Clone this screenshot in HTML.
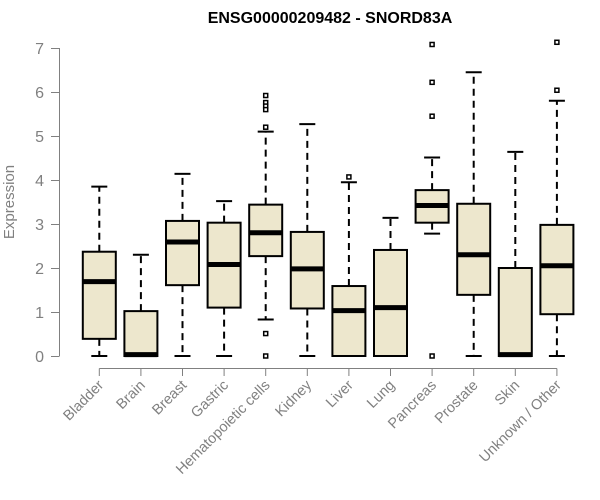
<!DOCTYPE html>
<html><head><meta charset="utf-8"><style>
body{margin:0;background:#fff;}
svg{display:block;font-family:"Liberation Sans",Arial,sans-serif;}
</style></head><body>
<svg id="chart" width="600" height="500">
<text x="330" y="23" text-anchor="middle" font-size="16" font-weight="bold">ENSG00000209482 - SNORD83A</text>
<text transform="translate(14,202) rotate(-90)" text-anchor="middle" font-size="15" fill="#808080">Expression</text>
<g id="yaxis"></g>
<g id="xaxis"></g>
<g id="boxes"></g>
</svg>
<script>
const categories=["Bladder","Brain","Breast","Gastric","Hematopoietic cells","Kidney","Liver","Lung","Pancreas","Prostate","Skin","Unknown / Other"];
const whiskerLow=[0,0,0,0,0.83,0,0,0,2.78,0,0,0];
const q1=[0.39,0,1.61,1.1,2.27,1.08,0,0,3.03,1.39,0,0.95];
const medians=[1.69,0.03,2.59,2.08,2.8,1.98,1.03,1.1,3.42,2.3,0.03,2.05];
const q3=[2.37,1.02,3.07,3.03,3.44,2.82,1.59,2.41,3.77,3.46,2.0,2.98];
const whiskerHigh=[3.85,2.3,4.14,3.52,5.1,5.27,3.95,3.14,4.51,6.45,4.64,5.8];
const outliers=[[],[],[],[],[5.92,5.76,5.68,5.6,5.2,0.51,0],[],[4.07],[],[7.08,6.22,5.45,0],[],[],[7.13,6.04]];
const yTicks=[0,1,2,3,4,5,6,7];
const NS="http://www.w3.org/2000/svg";
const y=v=>356-v*44;
const x=i=>99.3+i*41.6;
function mk(tag,attrs,parent){const e=document.createElementNS(NS,tag);for(const k in attrs)e.setAttribute(k,attrs[k]);parent.appendChild(e);return e;}
const ya=document.getElementById('yaxis'),xa=document.getElementById('xaxis'),bx=document.getElementById('boxes');
mk('line',{x1:59.5,x2:59.5,y1:y(0),y2:y(7),stroke:'#808080','stroke-width':1},ya);
yTicks.forEach(t=>{
 mk('line',{x1:51,x2:59.5,y1:y(t)+0.5,y2:y(t)+0.5,stroke:'#808080'},ya);
 const tx=mk('text',{x:44,y:y(t)+6,'text-anchor':'end','font-size':16,fill:'#808080'},ya);tx.textContent=t;
 
 
});
mk('line',{x1:x(0),x2:x(11),y1:368.5,y2:368.5,stroke:'#808080'},xa);
categories.forEach((c,i)=>{
 mk('line',{x1:x(i),x2:x(i),y1:368.5,y2:376,stroke:'#808080'},xa);
 const tx=mk('text',{transform:`translate(${x(i)+5},386) rotate(-45)`,'text-anchor':'end','font-size':14.5,fill:'#808080'},xa);tx.textContent=c;
 
 
 const g=mk('g',{},bx);
 
 
 const cx=x(i),w=16.5;
 mk('line',{x1:cx,x2:cx,y1:y(q3[i]),y2:y(whiskerHigh[i]),stroke:'#000','stroke-width':2,'stroke-dasharray':'7,5'},g);
 mk('line',{x1:cx,x2:cx,y1:y(q1[i]),y2:y(whiskerLow[i]),stroke:'#000','stroke-width':2,'stroke-dasharray':'7,5'},g);
 mk('line',{x1:cx-8,x2:cx+8,y1:y(whiskerHigh[i]),y2:y(whiskerHigh[i]),stroke:'#000','stroke-width':2},g);
 mk('line',{x1:cx-8,x2:cx+8,y1:y(whiskerLow[i]),y2:y(whiskerLow[i]),stroke:'#000','stroke-width':2},g);
 mk('rect',{x:cx-w,y:y(q3[i]),width:2*w,height:Math.max(y(q1[i])-y(q3[i]),0.1),fill:'#EDE7CD',stroke:'#000','stroke-width':2},g);
 mk('line',{x1:cx-w,x2:cx+w,y1:y(medians[i]),y2:y(medians[i]),stroke:'#000','stroke-width':5},g);
 outliers[i].forEach(o=>{const p=mk('rect',{x:cx-2,y:y(o)-2,width:4,height:4,fill:'#fff',stroke:'#000','stroke-width':1.5},g);
  
  });
});
</script>
</body></html>
